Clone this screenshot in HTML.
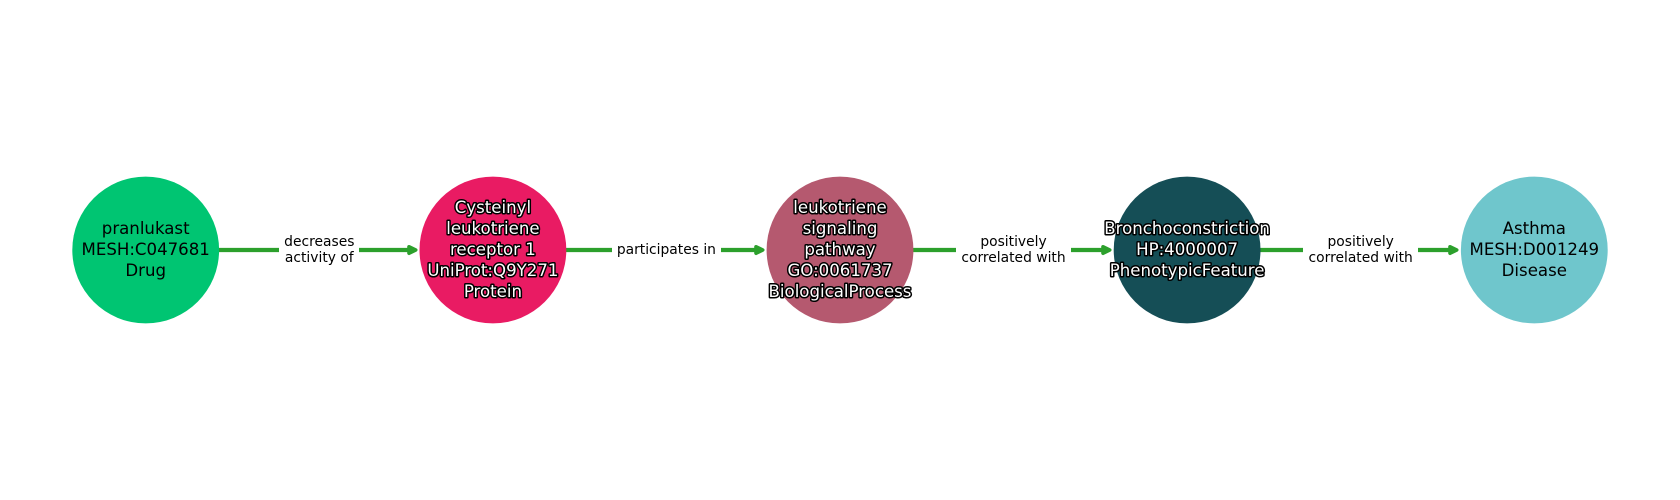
<!DOCTYPE html>
<html><head><meta charset="utf-8"><style>
html,body{margin:0;padding:0;background:#fff}
svg{display:block}
text{font-family:"DejaVu Sans",sans-serif;text-anchor:middle;dominant-baseline:alphabetic}
.n{font-size:16.6px;fill:#000}
.w{font-size:16.6px;fill:#fff;stroke:#000;stroke-width:3px;paint-order:stroke;stroke-linejoin:round}
.e{font-size:13.85px;fill:#000}
</style></head><body>
<svg width="1680" height="500" viewBox="0 0 1680 500" xmlns="http://www.w3.org/2000/svg">
<g stroke="#2ca02c" stroke-width="4.2" fill="none">
<line x1="219" y1="250" x2="412" y2="250"/>
<line x1="566" y1="250" x2="759" y2="250"/>
<line x1="913" y1="250" x2="1106" y2="250"/>
<line x1="1260" y1="250" x2="1453" y2="250"/>
</g>
<g fill="#2ca02c" stroke="#2ca02c" stroke-width="3.6" stroke-linejoin="round">
<polygon points="409,246.8 415.7,250 409,253.2"/>
<polygon points="756,246.8 762.7,250 756,253.2"/>
<polygon points="1103,246.8 1109.7,250 1103,253.2"/>
<polygon points="1450,246.8 1456.7,250 1450,253.2"/>
</g>
<g fill="#fff">
<rect x="279" y="230" width="80" height="40"/>
<rect x="612" y="235" width="109" height="30"/>
<rect x="956" y="230" width="115" height="40"/>
<rect x="1303" y="230" width="115" height="40"/>
</g>
<circle cx="145.7" cy="250" r="73.4" fill="#00c572"/>
<circle cx="492.9" cy="250" r="73.4" fill="#e91b63"/>
<circle cx="840" cy="250" r="73.4" fill="#b5596f"/>
<circle cx="1187.1" cy="250" r="73.4" fill="#154e56"/>
<circle cx="1534.3" cy="250" r="73.4" fill="#6fc6cc"/>
<text class="e" x="319.3" y="246.2">decreases</text>
<text class="e" x="319.3" y="262.2">activity of</text>
<text class="e" x="666.4" y="254.2">participates in</text>
<text class="e" x="1013.5" y="246.2">positively</text>
<text class="e" x="1013.5" y="262.2">correlated with</text>
<text class="e" x="1360.7" y="246.2">positively</text>
<text class="e" x="1360.7" y="262.2">correlated with</text>
<text class="n" x="145.7" y="234.2">pranlukast</text>
<text class="n" x="145.7" y="255.2">MESH:C047681</text>
<text class="n" x="145.7" y="276.2">Drug</text>
<text class="w" x="492.9" y="213.2">Cysteinyl</text>
<text class="w" x="492.9" y="234.2">leukotriene</text>
<text class="w" x="492.9" y="255.2">receptor 1</text>
<text class="w" x="492.9" y="276.2">UniProt:Q9Y271</text>
<text class="w" x="492.9" y="297.2">Protein</text>
<text class="w" x="840" y="213.2">leukotriene</text>
<text class="w" x="840" y="234.2">signaling</text>
<text class="w" x="840" y="255.2">pathway</text>
<text class="w" x="840" y="276.2">GO:0061737</text>
<text class="w" x="840" y="297.2">BiologicalProcess</text>
<text class="w" x="1187.1" y="234.2">Bronchoconstriction</text>
<text class="w" x="1187.1" y="255.2">HP:4000007</text>
<text class="w" x="1187.1" y="276.2">PhenotypicFeature</text>
<text class="n" x="1534.3" y="234.2">Asthma</text>
<text class="n" x="1534.3" y="255.2">MESH:D001249</text>
<text class="n" x="1534.3" y="276.2">Disease</text>
</svg>
</body></html>
